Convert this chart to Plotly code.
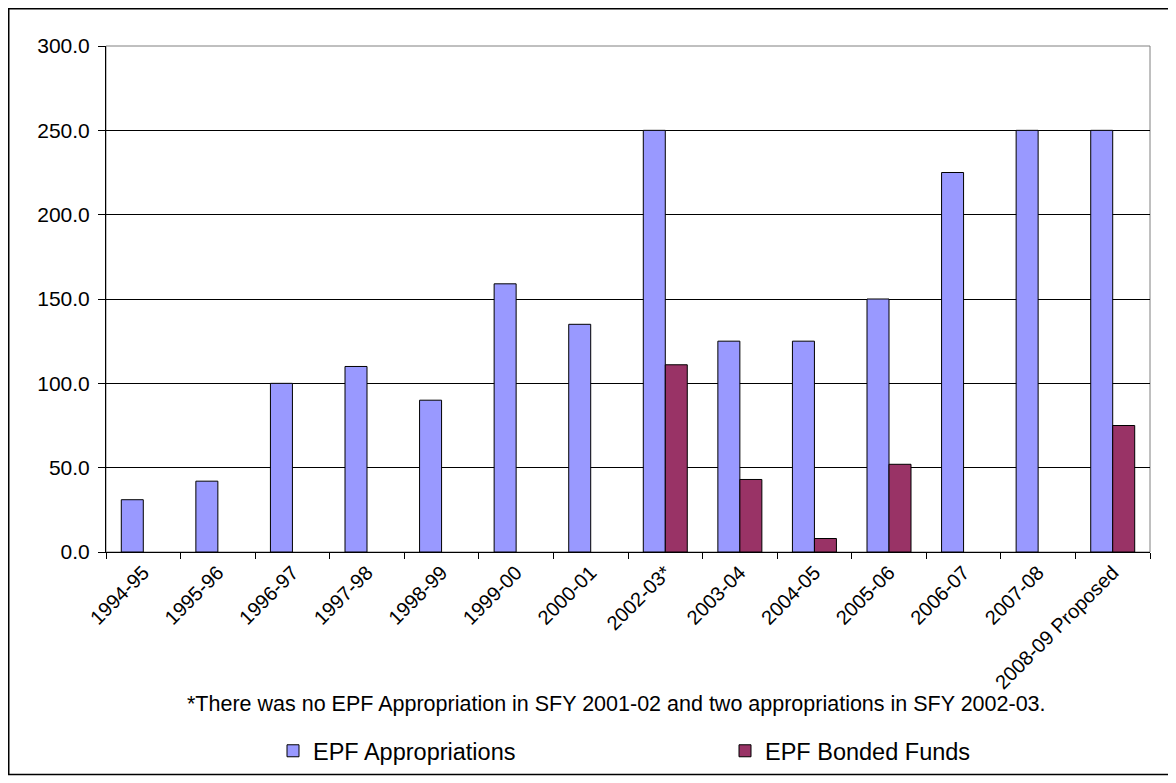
import plotly.graph_objects as go

# la página tiene margen de 8 px en el body: se trabaja en coordenadas de página
OFF = 8
W, H = 1176 - OFF, 783 - OFF
PLOT_L, PLOT_R, PLOT_T, PLOT_B = 106, 1150, 46, 553

categories = ["1994-95", "1995-96", "1996-97", "1997-98", "1998-99", "1999-00",
              "2000-01", "2002-03*", "2003-04", "2004-05", "2005-06", "2006-07",
              "2007-08", "2008-09 Proposed"]
appropriations = [31, 42, 100, 110, 90, 159, 135, 250, 125, 125, 150, 225, 250, 250]
bonded = [None, None, None, None, None, None, None, 111, 43, 8, 52, None, None, 75]
y_ticks = [0, 50, 100, 150, 200, 250, 300]
footnote = "*There was no EPF Appropriation in SFY 2001-02 and two appropriations in SFY 2002-03."

FONT = "Liberation Sans, Arial, sans-serif"

pw = PLOT_R - PLOT_L
ph = PLOT_B - PLOT_T


def px(x):
    return (x - PLOT_L) / pw


def py(y):
    return (PLOT_B - y) / ph


fig = go.Figure()
fig.add_trace(go.Bar(
    x=categories, y=appropriations, name="EPF Appropriations", legend="legend",
    marker=dict(color="#9999FF", line=dict(color="black", width=1)),
))
fig.add_trace(go.Bar(
    x=categories, y=bonded, name="EPF Bonded Funds", legend="legend2",
    marker=dict(color="#993366", line=dict(color="black", width=1)),
))

# borde del área de trazado (gris) y del gráfico completo (negro)
fig.add_shape(type="rect", xref="paper", yref="paper", x0=0, x1=1, y0=0, y1=1,
              line=dict(color="#808080", width=1), layer="below")
fig.add_shape(type="rect", xref="paper", yref="paper",
              x0=px(OFF + 0.75), x1=px(1169), y0=py(776), y1=py(OFF + 0.75),
              line=dict(color="black", width=1.5))

fig.add_annotation(text=footnote, xref="paper", yref="paper",
                   x=px(616.5), y=py(705),
                   xanchor="center", yanchor="middle", showarrow=False,
                   font=dict(size=21.5, color="black", family=FONT))

legend_style = dict(orientation="h", xanchor="left", y=py(751), yanchor="middle",
                    font=dict(size=23.5, family=FONT), bgcolor="rgba(0,0,0,0)")

fig.update_layout(
    width=W, height=H,
    margin=dict(l=PLOT_L - OFF, r=W - (PLOT_R - OFF), t=PLOT_T - OFF, b=H - (PLOT_B - OFF)),
    paper_bgcolor="white", plot_bgcolor="white",
    font=dict(family=FONT, size=20, color="black"),
    barmode="group", bargap=0.41, bargroupgap=0,
    showlegend=True,
    legend=dict(x=px(273), **legend_style),
    legend2=dict(x=px(725), **legend_style),
    xaxis=dict(type="category", tickangle=-45, tickson="boundaries",
               ticks="outside", ticklen=6, tickcolor="black",
               showline=True, linecolor="black", linewidth=1,
               showgrid=False, tickfont=dict(size=20)),
    yaxis=dict(range=[0, 300], tickvals=y_ticks, tickformat=".1f",
               ticks="outside", ticklen=7, tickcolor="black", ticklabelstandoff=4,
               showline=True, linecolor="black", linewidth=1,
               showgrid=True, gridcolor="black", gridwidth=1,
               zeroline=False, tickfont=dict(size=21)),
)

fig.write_html("out.html")
